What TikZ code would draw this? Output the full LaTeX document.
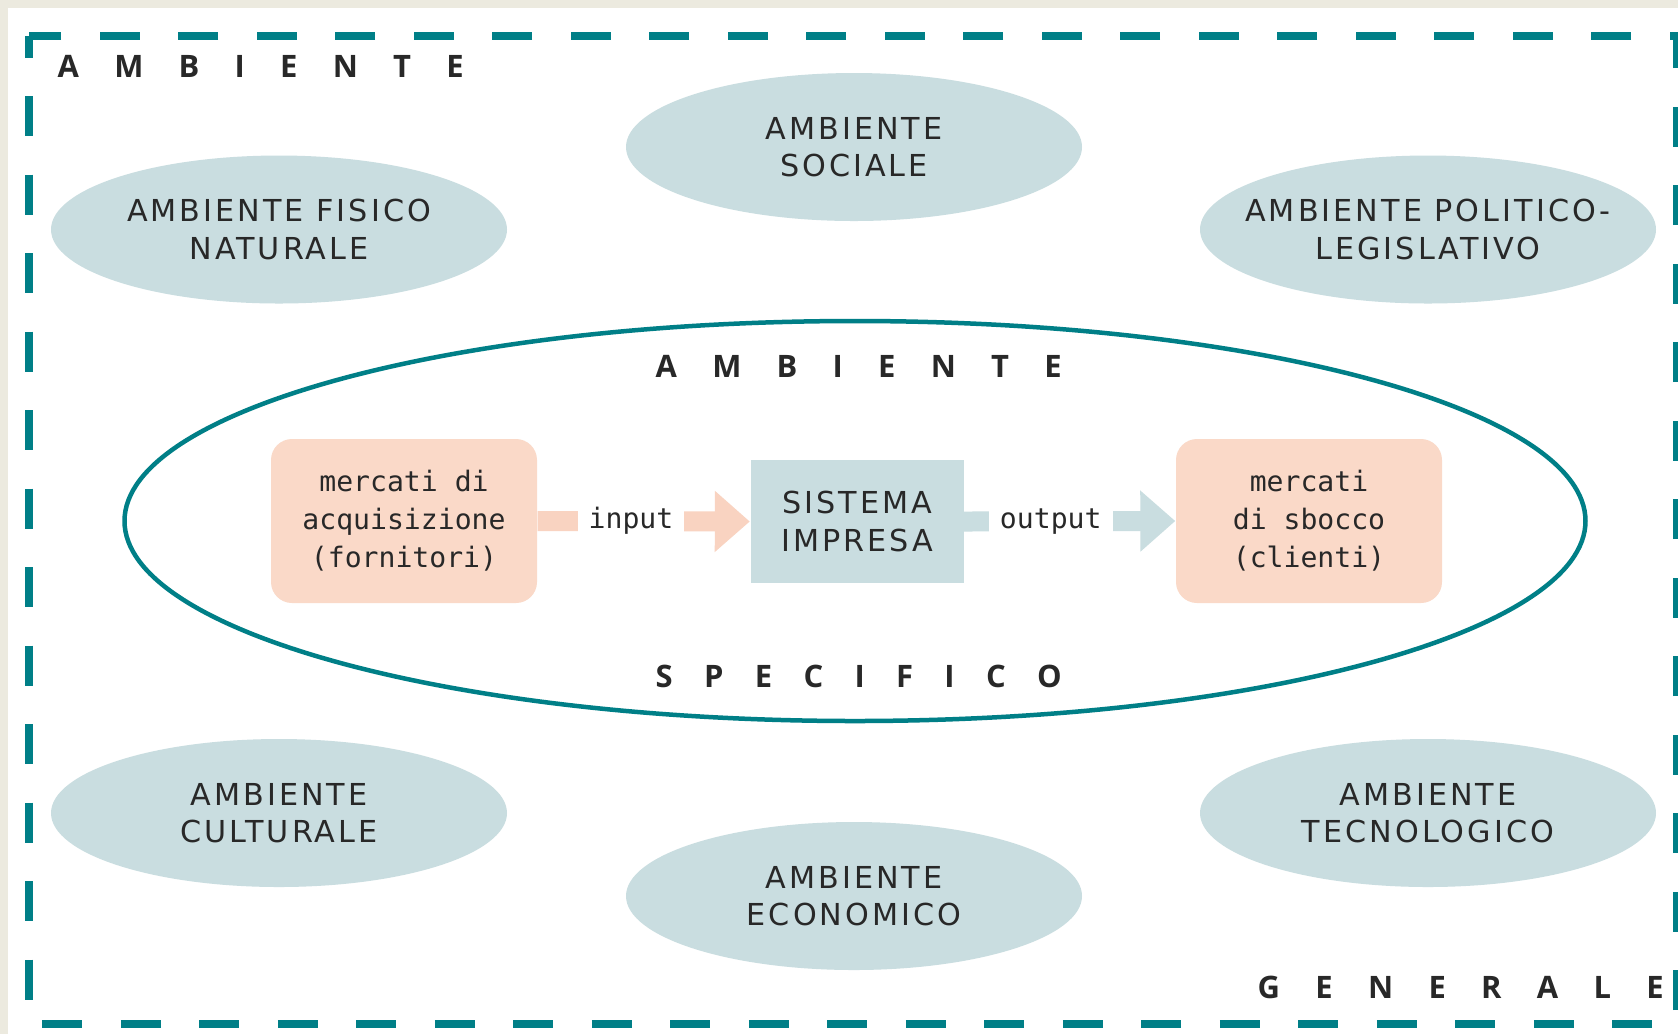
\documentclass[tikz,border=0pt]{standalone}
\usepackage{fontspec}
\usepackage{tikz}
\usetikzlibrary{shapes.geometric,arrows.meta}

\setmainfont{DejaVu Sans}
\newfontfamily\monofont{DejaVu Sans Mono}
\newfontfamily\headfont{Open Sans}
\newfontfamily\capsfont[LetterSpace=10]{DejaVu Sans}

\definecolor{petrol}{RGB}{0,127,135}
\definecolor{ambblue}{RGB}{201,221,224}
\definecolor{peach}{RGB}{250,217,200}
\definecolor{inpeach}{RGB}{249,211,193}
\definecolor{txt}{RGB}{40,40,40}
\definecolor{frame}{RGB}{236,234,223}

\newcommand{\spread}[1]{\makebox[40.6mm][s]{#1}}

\begin{document}
\begin{tikzpicture}[x=0.1mm,y=-0.1mm,
    amb/.style={ellipse,fill=ambblue,minimum width=45.6mm,minimum height=14.8mm,
      inner xsep=-3mm,inner ysep=0pt,align=center,text=txt,font=\capsfont\fontsize{8.6}{10.6}\selectfont},
    mkt/.style={rectangle,rounded corners=2.1mm,fill=peach,minimum width=26.6mm,
      minimum height=16.4mm,align=center,text=txt,font=\monofont\fontsize{8}{10.8}\selectfont},
    head/.style={anchor=base west,inner sep=0pt,text=txt,font=\headfont\bfseries\fontsize{8.8}{10}\selectfont},
    flow/.style={line width=2mm,-{Triangle[length=3.5mm,width=5.9mm]}},
    lbl/.style={fill=white,inner xsep=1.1mm,inner ysep=0.5mm,text=txt,font=\monofont\fontsize{8}{10}\selectfont}]
  % page and frame
  \fill[frame] (0,0) rectangle (1678,1034);
  \fill[white] (8,8) rectangle (1678,1034);
  \useasboundingbox (0,0) rectangle (1678,1034);
  \draw[petrol,line width=0.8mm,dash pattern=on 4mm off 3.85mm,dash phase=1.8mm]
    (28.5,35.5) rectangle (1677,1024);

  % ambiente generale
  \node[amb] (soc) at (854,147) {AMBIENTE\\SOCIALE};
  \node[amb] (fis) at (279,229.5) {AMBIENTE FISICO\\NATURALE};
  \node[amb] (pol) at (1428,229.5) {AMBIENTE POLITICO-\\LEGISLATIVO};
  \node[amb] (cul) at (279,813) {AMBIENTE\\CULTURALE};
  \node[amb] (tec) at (1428,813) {AMBIENTE\\TECNOLOGICO};
  \node[amb] (eco) at (854,896) {AMBIENTE\\ECONOMICO};

  % ambiente specifico
  \node[ellipse,draw=petrol,line width=0.45mm,minimum width=146.1mm,minimum height=40mm] (spec) at (855,521) {};

  \node[mkt] (acq) at (404,521) {mercati di\\acquisizione\\(fornitori)};
  \node[rectangle,fill=ambblue,minimum width=21.3mm,minimum height=12.3mm,align=center,
    text=txt,font=\capsfont\fontsize{8.6}{10.6}\selectfont] (sis) at (857,521.5) {SISTEMA\\IMPRESA};
  \node[mkt] (cli) at (1309,521) {mercati\\di sbocco\\(clienti)};

  \draw[flow,inpeach] (acq.east) -- node[lbl,pos=.44] (inp) {input} (sis.west);
  \draw[flow,ambblue] (sis.east) -- node[lbl,pos=.41] (out) {output} (cli.west);

  % scritte spaziate
  \node[head] (t1) at (57,77) {\spread{A M B I E N T E}};
  \node[head] (t2) at (655,377) {\spread{A M B I E N T E}};
  \node[head] (t3) at (655,687) {\spread{S P E C I F I C O}};
  \node[head] (t4) at (1257,998) {\spread{G E N E R A L E}};
\end{tikzpicture}
\end{document}
